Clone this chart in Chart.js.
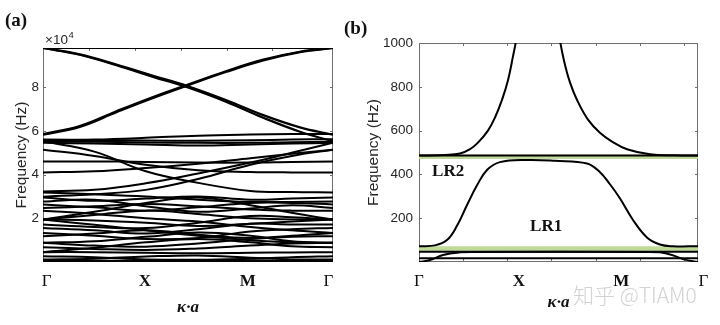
<!DOCTYPE html>
<html><head><meta charset="utf-8">
<script src="https://cdn.jsdelivr.net/npm/chart.js@4.4.1/dist/chart.umd.min.js"></script>
<style>
html,body{margin:0;padding:0;background:#fff;width:720px;height:325px;overflow:hidden;}
.pane{position:absolute;top:0;width:360px;height:325px;}
.plabel{position:absolute;font-family:"Liberation Serif","Times New Roman",serif;font-weight:bold;font-size:19px;color:#111;line-height:1;}
#wm{position:absolute;left:573px;top:284px;font-family:"Noto Sans CJK SC","Noto Sans",sans-serif;font-weight:300;font-size:21px;color:#d2d2d2;white-space:nowrap;line-height:1;}
</style></head><body>
<div class="pane" style="left:0"><canvas id="ca" width="360" height="325"></canvas></div>
<div class="pane" style="left:360px"><canvas id="cb" width="360" height="325"></canvas></div>
<div class="plabel" style="left:5px;top:10px">(a)</div>
<div class="plabel" style="left:344px;top:18px">(b)</div>
<div id="wm">知乎 @TIAM0</div>
<script>
// ---------- shared labels ----------
const hsLabels = ['Γ', 'X', 'M', 'Γ'];
const hsPosA = [0.04, 1.11, 2.23, 3.11];
const hsPosB = [0, 1.13, 2.29, 3.22];
const kMax = 3.16;
const xMinorTicks = [0.5, 1, 1.5, 2, 2.5, 3];

// ---------- panel (a): frequencies in units of 1e4 Hz ----------
const yTicksA = [2, 4, 6, 8];
const yMaxA = 9.79;
const kTop = [0, 0.4, 0.8, 1.2, 1.58, 2.0, 2.4, 2.8, 3.16];
const bandsTop = [
  [9.79, 9.79, 9.79, 9.79, 9.79, 9.79, 9.79, 9.79, 9.79],
  [9.79, 9.5, 9.03, 8.52, 8.04, 7.4, 6.72, 6.16, 5.82],
  [9.79, 9.48, 9.0, 8.47, 7.98, 7.32, 6.6, 5.96, 5.52],
  [5.82, 6.18, 6.85, 7.5, 8.08, 8.7, 9.22, 9.6, 9.79],
  [5.85, 6.22, 6.9, 7.55, 8.12, 8.74, 9.26, 9.62, 9.79]
];
const kA = [0, 0.56, 1.12, 1.69, 2.26, 2.71, 3.16];
const bandsMid = [
  [5.56, 5.6, 5.68, 5.78, 5.83, 5.85, 5.85],
  [5.6, 5.58, 5.56, 5.55, 5.57, 5.6, 5.62],
  [5.5, 5.5, 5.47, 5.45, 5.45, 5.48, 5.5],
  [5.45, 5.42, 5.38, 5.33, 5.38, 5.42, 5.45],
  [5.52, 5.05, 4.15, 3.62, 3.25, 3.2, 3.18],
  [3.23, 3.3, 3.6, 4.05, 4.55, 5.0, 5.46],
  [5.14, 4.85, 4.45, 4.2, 4.12, 4.1, 4.1],
  [4.1, 4.15, 4.3, 4.5, 4.75, 4.95, 5.14],
  [4.6, 4.6, 4.58, 4.55, 4.55, 4.58, 4.6],
  [2.99, 3.1, 3.3, 3.8, 4.45, 4.85, 5.14]
];
const bandsLow = [
  [0.03, 0.03, 0.04, 0.06, 0.05, 0.04, 0.03],
  [0.11, 0.15, 0.25, 0.3, 0.2, 0.12, 0.11],
  [0.26, 0.22, 0.12, 0.1, 0.15, 0.22, 0.26],
  [0.45, 0.45, 0.42, 0.4, 0.42, 0.44, 0.45],
  [0.45, 0.65, 0.9, 1.05, 0.9, 0.72, 0.68],
  [0.68, 0.6, 0.55, 0.62, 0.75, 0.85, 0.88],
  [0.88, 0.95, 1.15, 1.35, 1.2, 0.95, 0.88],
  [0.88, 0.75, 0.7, 0.85, 1.05, 1.15, 1.18],
  [1.18, 1.3, 1.45, 1.25, 1.1, 1.2, 1.33],
  [1.33, 1.2, 1.05, 1.1, 1.4, 1.5, 1.56],
  [1.56, 1.45, 1.3, 1.5, 1.75, 1.72, 1.71],
  [1.94, 1.7, 1.45, 1.2, 1.0, 0.9, 0.88],
  [1.94, 1.9, 1.8, 1.65, 1.75, 1.85, 1.94],
  [1.94, 2.15, 2.35, 2.2, 2.0, 1.95, 1.94],
  [1.94, 2.3, 2.7, 2.95, 2.6, 2.25, 1.94],
  [1.71, 1.6, 1.55, 1.8, 2.1, 2.05, 1.94],
  [2.35, 2.2, 2.0, 1.85, 1.6, 1.45, 1.33],
  [2.47, 2.55, 2.65, 2.55, 2.4, 2.35, 2.35],
  [2.63, 2.5, 2.35, 2.5, 2.7, 2.7, 2.63],
  [2.77, 2.85, 2.55, 2.3, 2.45, 2.6, 2.47],
  [2.95, 2.8, 2.9, 3.0, 2.85, 2.9, 2.95],
  [3.18, 3.1, 3.0, 2.85, 2.75, 2.75, 2.77]
];

// ---------- panel (b): frequencies in Hz ----------
const yTicksB = [200, 400, 600, 800, 1000];
const yMaxB = 1000;
const upperK = [0, 0.294, 0.464, 0.578, 0.668, 0.781, 0.861, 0.940, 1.008, 1.065, 1.099, 1.155, 1.370, 1.540, 1.597, 1.642, 1.710, 1.790, 1.914, 2.049, 2.186, 2.356, 2.616, 2.899, 3.16];
const upperF = [486, 489, 495, 515, 545, 600, 660, 740, 830, 940, 1010, 1150, 1300, 1150, 1010, 920, 820, 740, 650, 590, 550, 515, 492, 487, 486];
const lr1K = [0, 0.181, 0.317, 0.430, 0.544, 0.657, 0.770, 0.917, 1.223, 1.540, 1.903, 2.050, 2.163, 2.277, 2.424, 2.582, 2.729, 2.877, 3.16];
const lr1F = [72, 76, 100, 165, 260, 350, 420, 456, 466, 462, 450, 410, 355, 290, 192, 112, 80, 72, 72];
const lowK = [0, 0.125, 0.272, 0.464, 0.634, 2.56, 2.73, 2.865, 3.0, 3.16];
const lowF = [0, 9, 32, 44, 46, 46, 44, 32, 12, 0];
const flatB = [486, 47, 17];
const gapsB = [[47, 72], [470, 490]];
const lrText = [['LR2', 0.33, 411], ['LR1', 1.44, 160]];

// ---------- helpers ----------
const serif = '"Liberation Serif","Times New Roman",serif';
const sans = '"Liberation Sans",Arial,Helvetica,sans-serif';
const axisGray = '#6e6e6e';
const pts = (ks, vs) => ks.map((k, i) => ({x: k, y: vs[i]}));
const lineDs = (data, w) => ({data, borderColor: '#000', borderWidth: w || 2, pointRadius: 0, fill: false,
  tension: 0.4, order: 1});

const frame = {
  id: 'frame',
  beforeDatasetsDraw(chart, args, opts) {
    const {ctx, chartArea: a, scales: {x, y}} = chart;
    ctx.save();
    ctx.strokeStyle = axisGray; ctx.lineWidth = 1;
    ctx.strokeRect(a.left + 0.5, a.top + 0.5, a.right - a.left - 1, a.bottom - a.top - 1);
    ctx.beginPath();
    opts.xTicks.forEach(v => {
      const p = Math.round(x.getPixelForValue(v)) + 0.5;
      ctx.moveTo(p, a.bottom); ctx.lineTo(p, a.bottom - 3);
      ctx.moveTo(p, a.top); ctx.lineTo(p, a.top + 3);
    });
    opts.yTicks.forEach(v => {
      const p = Math.round(y.getPixelForValue(v)) + 0.5;
      ctx.moveTo(a.left, p); ctx.lineTo(a.left + 3, p);
      ctx.moveTo(a.right, p); ctx.lineTo(a.right - 3, p);
    });
    ctx.stroke();
    ctx.restore();
  },
  afterDraw(chart, args, opts) {
    const {ctx, chartArea: a, scales: {x, y}} = chart;
    ctx.save();
    if (opts.exponent) {
      ctx.fillStyle = '#262626';
      ctx.textBaseline = 'alphabetic';
      ctx.font = '13.5px ' + sans;
      const bx = a.left + 2, by = a.top - 4;
      ctx.fillText('×10', bx, by);
      const w = ctx.measureText('×10').width;
      ctx.font = '9.5px ' + sans;
      ctx.fillText('4', bx + w + 0.5, by - 6);
    }
    (opts.texts || []).forEach(t => {
      ctx.fillStyle = '#111';
      ctx.font = 'bold 17px ' + serif;
      ctx.textAlign = 'center'; ctx.textBaseline = 'middle';
      ctx.fillText(t[0], x.getPixelForValue(t[1]), y.getPixelForValue(t[2]));
    });
    ctx.restore();
  }
};

function makeScales(hsPos, yTicks, yMax, yWidth, yPad, yTitlePad, xTitleBottom) {
  return {
    x: {
      type: 'linear', min: 0, max: kMax,
      afterBuildTicks: s => { s.ticks = hsPos.map(v => ({value: v})); },
      afterFit: s => { s.height = 63; },
      grid: {display: false, drawTicks: false}, border: {display: false},
      ticks: {autoSkip: false, maxRotation: 0, padding: 9, color: '#111',
        callback: (v, i) => hsLabels[i],
        font: c => ({family: serif, size: 17, weight: (c.index === 1 || c.index === 2) ? 'bold' : 'normal'})},
      title: {display: true, text: 'κ·a', color: '#111',
        font: {family: serif, size: 17, style: 'italic', weight: 'bold'},
        padding: {top: 0, bottom: xTitleBottom}}
    },
    y: {
      type: 'linear', min: 0, max: yMax,
      afterBuildTicks: s => { s.ticks = yTicks.map(v => ({value: v})); },
      afterFit: s => { s.width = yWidth; },
      grid: {display: false, drawTicks: false}, border: {display: false},
      ticks: {padding: yPad, color: '#262626', font: {family: sans, size: 13.5},
        callback: v => String(v)},
      title: {display: true, text: 'Frequency (Hz)', color: '#262626',
        font: {family: sans, size: 15.5}, padding: {top: yTitlePad, bottom: 0}}
    }
  };
}

// ---------- chart (a) ----------
const dsA = [];
bandsTop.forEach(b => dsA.push(lineDs(pts(kTop, b), 2.2)));
bandsMid.forEach(b => dsA.push(lineDs(pts(kA, b), 2)));
bandsLow.forEach((b, i) => dsA.push(lineDs(pts(kA, b), i === 0 ? 3 : 2)));

new Chart(document.getElementById('ca'), {
  type: 'line',
  data: {datasets: dsA},
  options: {
    responsive: false, animation: false, parsing: false,
    layout: {padding: {left: 0, right: 27, top: 48, bottom: 0}},
    scales: makeScales(hsPosA, yTicksA, yMaxA, 43, 4, 12, 7),
    plugins: {legend: {display: false}, tooltip: {enabled: false},
      frame: {xTicks: xMinorTicks, yTicks: yTicksA, exponent: true}}
  },
  plugins: [frame]
});

// ---------- chart (b) ----------
const dsB = [];
gapsB.forEach(g => {
  dsB.push({data: pts([0, kMax], [g[0], g[0]]), borderWidth: 0, pointRadius: 0, fill: false, order: 5});
  dsB.push({data: pts([0, kMax], [g[1], g[1]]), borderWidth: 0, pointRadius: 0, fill: '-1',
    backgroundColor: 'rgba(190,214,150,0.95)', order: 5});
});
flatB.forEach(f => dsB.push(lineDs(pts([0, kMax], [f, f]), 2)));
dsB.push(lineDs(pts(upperK, upperF), 2));
dsB.push(lineDs(pts(lr1K, lr1F), 2));
dsB.push(lineDs(pts(lowK, lowF), 2));

new Chart(document.getElementById('cb'), {
  type: 'line',
  data: {datasets: dsB},
  options: {
    responsive: false, animation: false, parsing: false,
    layout: {padding: {left: 0, right: 22, top: 43, bottom: 0}},
    scales: makeScales(hsPosB, yTicksB, yMaxB, 59, 6, 4, 12),
    plugins: {legend: {display: false}, tooltip: {enabled: false},
      frame: {xTicks: xMinorTicks, yTicks: yTicksB, texts: lrText}}
  },
  plugins: [frame]
});
</script>
</body></html>
